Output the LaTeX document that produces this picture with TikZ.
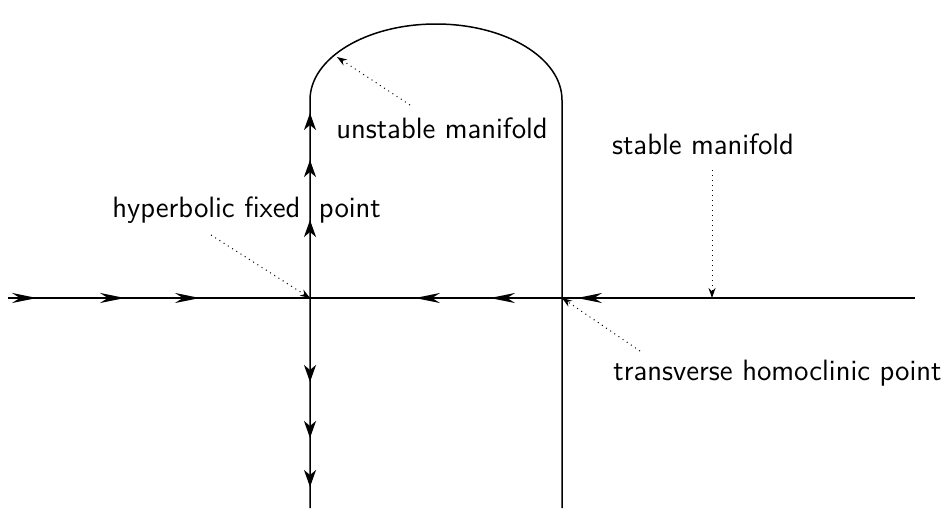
\documentclass[tikz,border=0pt]{standalone}
\usepackage{tikz}
\usetikzlibrary{arrows.meta,decorations.markings}

\tikzset{
  hflow/.tip={Stealth[length=12.5pt, width=5pt, inset=4pt]},
  vflow/.tip={Stealth[length=8.5pt, width=6pt, inset=2.5pt]},
}

\begin{document}
\begin{tikzpicture}[
  x=0.5pt, y=-0.5pt,
  manifold/.style={line width=0.75pt, postaction={decorate}},
  label/.style={font=\fontsize{14.7}{17}\selectfont\sffamily, inner sep=0pt},
  note/.style={dotted, line width=0.5pt, -{Stealth[length=5pt, width=3.5pt]}},
]
  \useasboundingbox (0,0) rectangle (947,509);

  % Points on the manifolds
  \coordinate (west) at (8,298);
  \coordinate (east) at (915,298);
  \coordinate (hyp) at (310,298);
  \coordinate (homo) at (562,298);
  \coordinate (leftfoot) at (310,508);
  \coordinate (lefttop) at (310,100);
  \coordinate (rightfoot) at (562,508);
  \coordinate (arcpt) at (337,57);
  \coordinate (stabpt) at (712,298);

  % Stable manifold
  \draw[manifold, decoration={markings,
      mark=at position 14.5pt with {\arrow{hflow}},
      mark=at position 58.5pt with {\arrow{hflow}},
      mark=at position 96pt with {\arrow{hflow}},
      mark=at position 203.5pt with {\arrowreversed{hflow}},
      mark=at position 241pt with {\arrowreversed{hflow}},
      mark=at position 284.5pt with {\arrowreversed{hflow}}}]
    (west) -- (east);

  % Unstable manifold
  \draw[manifold, decoration={markings,
      mark=at position 10.5pt with {\arrowreversed{vflow}},
      mark=at position 35pt with {\arrowreversed{vflow}},
      mark=at position 63pt with {\arrowreversed{vflow}},
      mark=at position 144pt with {\arrow{vflow}},
      mark=at position 174pt with {\arrow{vflow}},
      mark=at position 197.5pt with {\arrow{vflow}}}]
    (leftfoot) -- (lefttop)
    arc[start angle=180, end angle=0, x radius=63pt, y radius=38pt]
    -- (rightfoot);

  % Labels
  \node[label, anchor=base] (unstable) at (442,138) {unstable manifold};
  \node[label, anchor=base] (stable) at (703,154) {stable manifold};
  \node[label, anchor=base west] (fixed) at (112,217) {hyperbolic fixed\hspace{4.5pt} point};
  \node[label, anchor=base west] (transverse) at (613,380) {transverse homoclinic point};

  % Pointers
  \coordinate (unote) at (410,105);
  \coordinate (snote) at (712,170);
  \coordinate (hnote) at (211,235);
  \coordinate (tnote) at (640,351);
  \draw[note] (unote) -- (arcpt);
  \draw[note] (snote) -- (stabpt);
  \draw[note] (hnote) -- (hyp);
  \draw[note] (tnote) -- (homo);
\end{tikzpicture}
\end{document}
